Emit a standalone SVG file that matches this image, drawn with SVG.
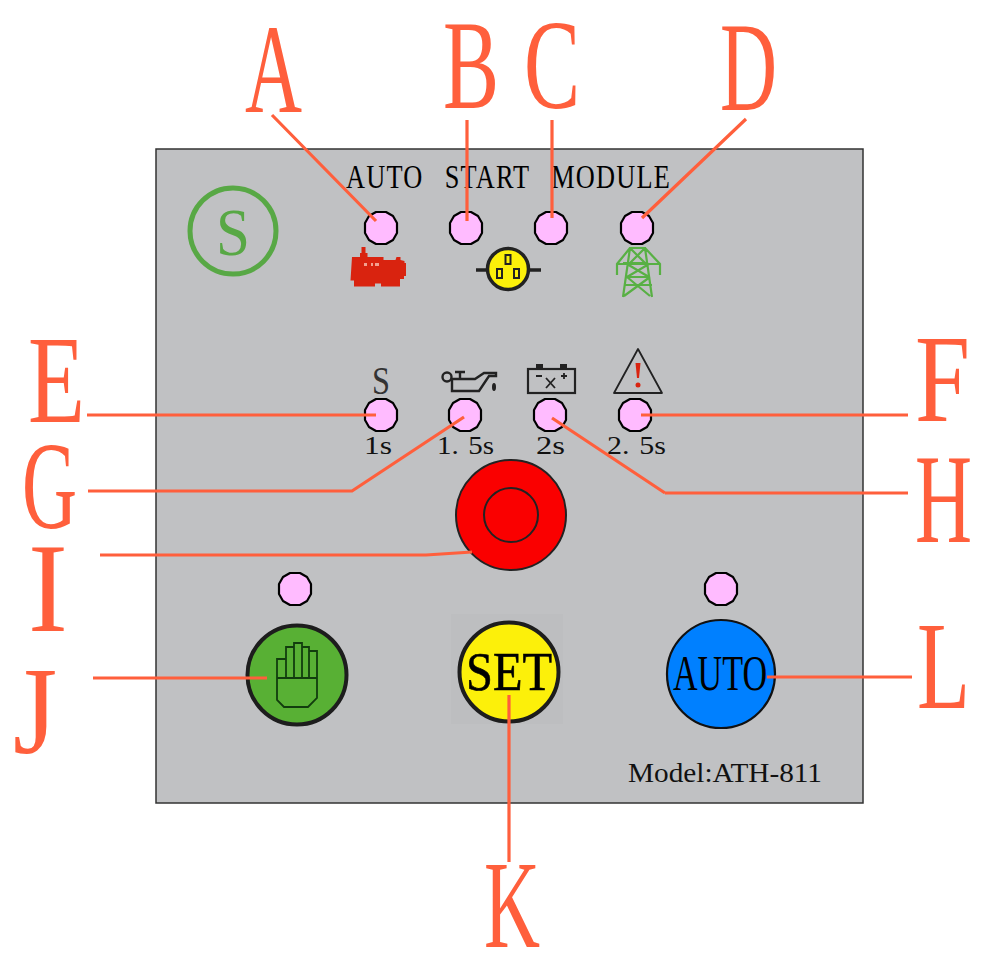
<svg xmlns="http://www.w3.org/2000/svg" width="991" height="958" viewBox="0 0 991 958">
<style>
.big{font-family:"Liberation Serif",serif;font-size:126px;fill:#ff5f3c}
.s{font-family:"Liberation Serif",serif;fill:#000}
.led{fill:#ffbbff;stroke:#000;stroke-width:2.2;stroke-linejoin:round}
.c{fill:none;stroke:#ff5f3c;stroke-width:3.2}
.i{fill:none;stroke:#222;stroke-width:2.4}
.tw{fill:none;stroke:#58b044;stroke-width:2.2}
</style>
<defs><polygon id="o" class="led" points="-5,-16 5,-16 12,-12 16,-5 16,5 12,12 5,16 -5,16 -12,12 -16,5 -16,-5 -12,-12"/></defs>
<rect width="991" height="958" fill="#fff"/>
<rect id="panel" x="156" y="149" width="707" height="654" fill="#c0c1c3" stroke="#333" stroke-width="1.5"/>
<rect x="451" y="614" width="112" height="110" fill="#bdbec0"/>
<g id="title"><text class="s" x="346" y="188" font-size="33" letter-spacing="1.500" word-spacing="17" fill="#111" textLength="325" lengthAdjust="spacingAndGlyphs">AUTO START MODULE</text></g>
<g id="logo"><circle cx="233" cy="231" r="43" fill="none" stroke="#58a845" stroke-width="5"/><text x="233" y="255" font-size="68" text-anchor="middle" font-family="Liberation Serif" fill="#58a845" textLength="34" lengthAdjust="spacingAndGlyphs">S</text></g>
<g id="led-a"><use href="#o" x="381" y="228"/></g>
<g id="led-b"><use href="#o" x="466" y="228"/></g>
<g id="led-c"><use href="#o" x="551" y="228"/></g>
<g id="led-d"><use href="#o" x="637" y="228"/></g>
<g id="generator"><path d="M352 257h8v-4h1.500v-6h4v6h2v4h16v3h12l1-3h4v3l4 1v2h1.500v13h-2v3h-4v7.500h-19v-3h-6v3h-21v-6h-3.500z" fill="#d9230f"/><path d="M364 263h3v3h-3zM371 263h2v3h-2zM375 263h4v3h-4z" fill="#f2a090"/></g>
<g id="socket"><path d="M476 270h16M524 270h17" stroke="#222" stroke-width="3.500"/><circle cx="508" cy="269" r="20.500" fill="#fcf00a" stroke="#222" stroke-width="3.500"/><g fill="none" stroke="#222" stroke-width="2"><rect x="505.500" y="255" width="5" height="9"/><rect x="497" y="269" width="5" height="9"/><rect x="514" y="269" width="5" height="9"/></g></g>
<g id="tower"><path class="tw" d="M623 297l7-49h15l7 49M617 275v-11l13-16M660 275v-11l-15-16M617 264h43M630 248l15 15-22 0M645 248l-15 15M627 264l22 13M649 264l-22 13M626 277h24M625 285h27M627 277l23 19M650 277l-26 19"/></g>
<g id="led-e"><use href="#o" x="381" y="415"/></g>
<g id="led-g"><use href="#o" x="465" y="415"/></g>
<g id="led-h"><use href="#o" x="550" y="415"/></g>
<g id="led-f"><use href="#o" x="635" y="415"/></g>
<text x="381" y="394" font-size="40" text-anchor="middle" font-family="Liberation Serif" fill="#333" textLength="18" lengthAdjust="spacingAndGlyphs">S</text>
<g id="oil"><path class="i" d="M452 379H475L484 373H496V376H489L479 391H452ZM460 372V379M455 372H465"/><circle cx="447" cy="377" r="4.500" class="i"/><ellipse cx="494" cy="387" rx="2" ry="4" fill="#222"/></g>
<g id="battery"><rect x="528" y="369" width="47" height="24" fill="none" stroke="#222" stroke-width="2.200"/><rect x="536" y="364" width="7" height="5" fill="#222"/><rect x="560" y="364" width="7" height="5" fill="#222"/><path d="M546 378l9 10M555 378l-9 10M536 376h6M561 376h6M564 373v6" stroke="#222" stroke-width="1.800"/></g>
<g id="warning"><path d="M638 349l24 44h-48z" fill="none" stroke="#222" stroke-width="1.800" stroke-linejoin="round"/><path d="M635.500 363h5l-1.500 15h-2z" fill="#d9230f"/><circle cx="638" cy="385" r="2.500" fill="#d9230f"/></g>
<g font-family="Liberation Serif" font-size="25" fill="#111">
<text x="364" y="454" textLength="28" lengthAdjust="spacingAndGlyphs">1s</text>
<text x="437" y="454" word-spacing="2" textLength="57" lengthAdjust="spacingAndGlyphs">1. 5s</text>
<text x="536" y="454" textLength="29" lengthAdjust="spacingAndGlyphs">2s</text>
<text x="607" y="454" word-spacing="2" textLength="59" lengthAdjust="spacingAndGlyphs">2. 5s</text>
</g>
<g id="stop"><circle cx="511" cy="515" r="55" fill="#fa0000" stroke="#222" stroke-width="2"/><circle cx="511" cy="515" r="27" fill="#fa0000" stroke="#222" stroke-width="2"/></g>
<g id="led-j"><use href="#o" x="295" y="589"/></g>
<g id="led-l"><use href="#o" x="721" y="589"/></g>
<g id="manual"><circle cx="297" cy="675" r="49.500" fill="#58b034" stroke="#1d1d1d" stroke-width="4"/><path d="M277 678v-19h9M286 678v-31h8M294 678v-35h8v35M302 647h7v31M309 651h8v47l-9 9h-24l-7-7v-22h40" fill="none" stroke="#123d0e" stroke-width="1.800"/></g>
<g id="set"><circle cx="509" cy="672" r="49.500" fill="#fcf00a" stroke="#1d1d1d" stroke-width="4"/><text x="466" y="690" class="s" font-size="54" stroke="#000" stroke-width=".6" textLength="86" lengthAdjust="spacingAndGlyphs">SET</text></g>
<g id="auto"><circle cx="721" cy="674" r="54" fill="#0080ff" stroke="#111" stroke-width="2.200"/><text x="673" y="690" class="s" font-size="50" textLength="94" lengthAdjust="spacingAndGlyphs">AUTO</text></g>
<g id="model"><text x="628" y="782" font-family="Liberation Serif" fill="#111" font-size="27" textLength="194" lengthAdjust="spacingAndGlyphs">Model:ATH-811</text></g>
<g id="connectors">
<path class="c" d="M272 115L376 221M467 120V221M552 120V218M746 119L642 218M87 415H376M88 491H352L464 417M665 493H908M552 418L665 493M100 555H426L472 552M93 678H267M509 695V862M767 677H912M641 415H908"/>
</g>
<g id="labels">
<text class="big" transform="translate(245 112) scale(.627 1)">A</text>
<text class="big" transform="translate(443 108) scale(.667 1)">B</text>
<text class="big" transform="translate(524 108) scale(.667 1)">C</text>
<text class="big" transform="translate(720 110) scale(.627 1)">D</text>
<text class="big" transform="translate(28 422) scale(.74 1)">E</text>
<text class="big" transform="translate(915 421) scale(.785 1)">F</text>
<text class="big" transform="translate(22 528) scale(.605 1)">G</text>
<text class="big" transform="translate(915 542) scale(.627 1)">H</text>
<text class="big" transform="translate(28 631) scale(.95 1)">I</text>
<text class="big" transform="translate(13 753) scale(.9 1)">J</text>
<text class="big" transform="translate(917 708) scale(.69 1)">L</text>
<text class="big" transform="translate(484 947) scale(.616 1)">K</text>
</g>
</svg>
